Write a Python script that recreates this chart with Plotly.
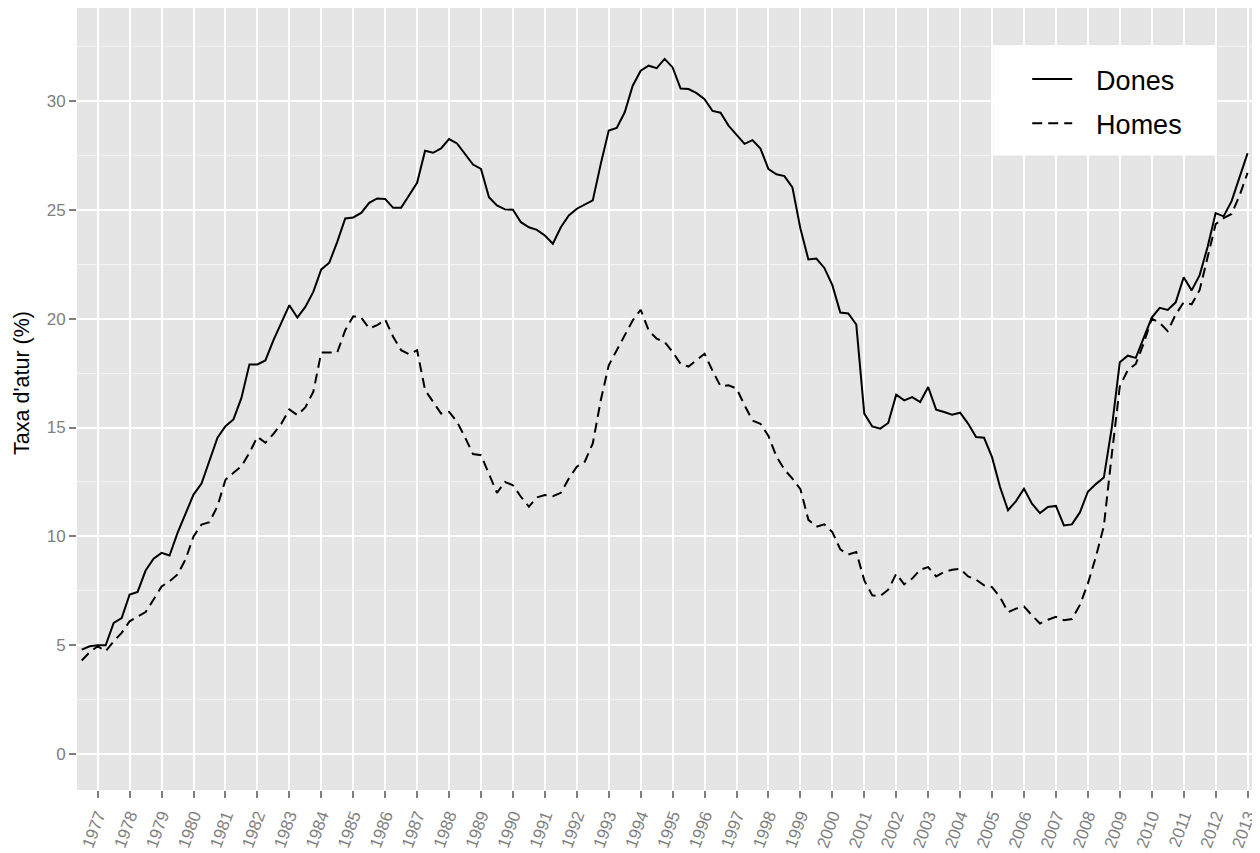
import plotly.graph_objects as go

# Quarterly unemployment rate (%), 1976 Q3 .. 2013 Q1
start_year = 1976.5  # 1976 Q3

dones = [
    4.8, 4.95,
    5.0, 5.0, 6.03, 6.25,
    7.33, 7.45, 8.43, 8.97,
    9.24, 9.12, 10.16, 11.08,
    11.92, 12.43, 13.45, 14.53,
    15.06, 15.37, 16.36, 17.9,
    17.9, 18.08, 19.0, 19.8,
    20.62, 20.05, 20.54, 21.23,
    22.26, 22.57, 23.53, 24.6,
    24.65, 24.86, 25.32, 25.52,
    25.5, 25.09, 25.1, 25.67,
    26.24, 27.71, 27.62, 27.82,
    28.25, 28.05, 27.55, 27.08,
    26.88, 25.58, 25.2, 25.02,
    25.0, 24.43, 24.2, 24.08,
    23.82, 23.44, 24.2, 24.74,
    25.05, 25.24, 25.43, 27.11,
    28.64, 28.76, 29.48, 30.7,
    31.39, 31.62, 31.51, 31.93,
    31.54, 30.57, 30.55, 30.36,
    30.08, 29.54, 29.46, 28.87,
    28.43, 28.03, 28.2, 27.81,
    26.87, 26.63, 26.55, 26.03,
    24.14, 22.72, 22.76, 22.33,
    21.54, 20.28, 20.24, 19.73,
    15.64, 15.05, 14.95, 15.21,
    16.51, 16.25, 16.4, 16.17,
    16.86, 15.82, 15.71, 15.59,
    15.68, 15.18, 14.56, 14.53,
    13.64, 12.27, 11.2, 11.62,
    12.19, 11.5, 11.07, 11.35,
    11.4, 10.5, 10.55, 11.1,
    12.05, 12.4, 12.7, 15.0,
    18.0, 18.3, 18.2, 19.1,
    20.05, 20.5, 20.4, 20.75,
    21.9, 21.3, 22.0, 23.3,
    24.85, 24.7, 25.4, 26.5,
    27.6,
]

homes = [
    4.3, 4.68,
    4.95, 4.72, 5.18, 5.57,
    6.1, 6.3, 6.52, 7.1,
    7.7, 7.94, 8.25, 8.94,
    10.0, 10.54, 10.65, 11.39,
    12.6, 12.92, 13.22, 13.84,
    14.57, 14.3, 14.7, 15.18,
    15.83, 15.57, 15.92, 16.64,
    18.45, 18.45, 18.45, 19.47,
    20.11, 20.05, 19.55, 19.7,
    19.96, 19.17, 18.55, 18.37,
    18.55, 16.72, 16.18, 15.64,
    15.72, 15.26, 14.55, 13.78,
    13.73, 12.89, 12.0, 12.5,
    12.35, 11.82, 11.36, 11.79,
    11.9, 11.85, 12.0, 12.66,
    13.2, 13.43, 14.27, 16.25,
    17.86, 18.55, 19.24, 19.92,
    20.41, 19.46, 19.08, 18.93,
    18.47, 17.92, 17.8, 18.08,
    18.39, 17.6, 16.9, 16.94,
    16.79, 16.03, 15.32, 15.17,
    14.61, 13.67, 13.07, 12.65,
    12.17, 10.76, 10.44, 10.55,
    10.2, 9.4, 9.17, 9.28,
    7.98, 7.29, 7.26, 7.55,
    8.28, 7.8, 8.06, 8.47,
    8.59, 8.16, 8.36, 8.47,
    8.51, 8.16, 8.01, 7.75,
    7.67, 7.21, 6.52, 6.68,
    6.78, 6.37, 6.0, 6.17,
    6.3, 6.15, 6.2, 6.85,
    7.83, 9.06, 10.47, 13.77,
    16.89, 17.64, 17.92, 18.87,
    20.0, 19.81, 19.43, 20.19,
    20.75, 20.66, 21.32, 22.83,
    24.34, 24.62, 24.81, 25.66,
    26.7,
]

series_names = ["Dones", "Homes"]
y_title = "Taxa d'atur (%)"
tick_years = list(range(1977, 2014))
tick_labels = [str(y) for y in tick_years]
y_ticks = [0, 5, 10, 15, 20, 25, 30]

x = [start_year + 0.25 * i for i in range(len(dones))]

FONT = "Liberation Sans, Arial, Helvetica, sans-serif"
GREY50 = "#7F7F7F"
PAD = "\u2002\u2009"  # visual gap between legend key and label

fig = go.Figure()
fig.add_trace(go.Scatter(
    x=x, y=dones, mode="lines", name=PAD + series_names[0], legendgroup="d",
    line=dict(color="black", width=2),
))
fig.add_trace(go.Scatter(
    x=x, y=homes, mode="lines", name=PAD + series_names[1], legendgroup="h",
    line=dict(color="black", width=2, dash="10px,6px"),
))

# page body has an 8px margin, so the figure is 8px smaller and offset
fig.update_layout(
    width=1252, height=845,
    margin=dict(l=69, r=7, t=0, b=63, autoexpand=False),
    paper_bgcolor="white",
    plot_bgcolor="#E5E5E5",
    font=dict(family=FONT, color="black"),
    showlegend=True,
    legend=dict(
        x=0.808, y=0.9399, xanchor="left", yanchor="top",
        bgcolor="rgba(0,0,0,0)", borderwidth=0,
        font=dict(size=27, color="black", family=FONT),
        tracegroupgap=6, itemwidth=40,
    ),
    shapes=[dict(
        type="rect", xref="paper", yref="paper",
        x0=0.7791, x1=0.968, y0=0.812, y1=0.9527,
        fillcolor="white", line=dict(width=0), layer="above",
    )],
    annotations=[dict(
        text=y_title, textangle=-90, showarrow=False,
        xref="paper", yref="paper", x=-0.0468, y=0.5205,
        xanchor="center", yanchor="middle",
        font=dict(size=21.5, color="black", family=FONT),
    )],
)

fig.update_xaxes(
    range=[1976.352, 2013.17],
    tickmode="array", tickvals=tick_years, ticktext=tick_labels,
    tickangle=-70,
    ticks="outside", ticklen=7, tickwidth=1.5, tickcolor=GREY50,
    tickfont=dict(size=17, color=GREY50, family=FONT),
    ticklabelstandoff=1,
    showgrid=True, gridcolor="white", gridwidth=1.6,
    zeroline=False, showline=False, automargin=False,
)
fig.update_yaxes(
    range=[-1.65, 34.27],
    tickmode="array", tickvals=y_ticks,
    ticks="outside", ticklen=7, tickwidth=1.5, tickcolor=GREY50,
    tickfont=dict(size=17, color=GREY50, family=FONT),
    showgrid=True, gridcolor="white", gridwidth=1.8,
    minor=dict(tickmode="linear", tick0=2.5, dtick=5, showgrid=True,
               gridcolor="#F2F2F2", gridwidth=1, ticks=""),
    zeroline=False, showline=False, automargin=False,
)

fig.write_html("out.html")
